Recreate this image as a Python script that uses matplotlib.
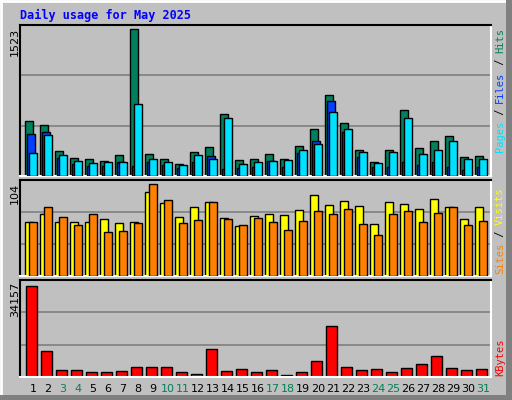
import matplotlib
matplotlib.use("Agg")
import matplotlib.pyplot as plt
from matplotlib.patches import Rectangle
from matplotlib.lines import Line2D

days = list(range(1, 32))
hits = [567,525,256,186,176,155,218,1523,228,176,124,249,300,642,166,176,228,176,311,487,839,549,269,145,269,684,290,363,414,197,207]
files = [432,453,183,128,107,107,145,107,145,114,83,145,207,73,83,93,155,93,238,363,777,456,197,93,93,145,114,145,93,62,93]
pages = [235,422,214,155,135,145,145,746,176,145,114,218,176,601,124,145,155,166,269,332,663,487,249,135,249,601,228,269,363,176,176]
visits = [61,70,61,61,61,64,60,61,95,83,67,78,84,66,57,68,70,69,75,92,80,85,79,59,84,81,76,87,78,64,78]
sites = [61,78,67,58,70,50,51,60,104,86,60,63,84,64,58,66,61,52,62,73,70,76,59,46,70,73,61,71,78,58,62]
kbytes = [34157,9760,2627,2627,1877,1877,2252,3753,3753,3753,1877,1126,10508,2252,3002,1877,2627,750,1877,6005,19140,3753,2627,3002,1877,3378,4879,7881,3378,2627,3002]
weekend = {3,4,10,11,17,18,24,25,31}
max_hits, max_visits, max_kb = 1523, 104, 34157

W, H = 512, 400
fig = plt.figure(figsize=(W/100, H/100), dpi=100)
fig.patch.set_facecolor("#C0C0C0")
def fx(px): return px / W
def fy(py): return 1 - py / H
fig.add_artist(Line2D([fx(1), fx(1)], [fy(1), fy(397)], color="white", lw=2, transform=fig.transFigure, zorder=-1))
fig.add_artist(Line2D([fx(1), fx(507)], [fy(1), fy(1)], color="white", lw=2, transform=fig.transFigure, zorder=-1))
fig.add_artist(Rectangle((fx(506), 0), fx(6), 1, transform=fig.transFigure, color="#808080", lw=0, zorder=-1))
fig.add_artist(Rectangle((0, 0), 1, 5/H, transform=fig.transFigure, color="#808080", lw=0, zorder=-1))

x0, x1 = 20, 491
def mkax(top, bot):
    ax = fig.add_axes([fx(x0), fy(bot), fx(x1) - fx(x0), fy(top) - fy(bot)])
    ax.set_facecolor("#C0C0C0")
    ax.set_xlim(1 - 5/15, 1 + (x1 - 25)/15)
    ax.set_xticks([]); ax.set_yticks([])
    for s in ["top", "left"]:
        ax.spines[s].set_color("black"); ax.spines[s].set_linewidth(1.5)
    for s in ["bottom", "right"]:
        ax.spines[s].set_color("white"); ax.spines[s].set_linewidth(1.5)
    return ax

bw = 8/15
ax1 = mkax(25, 176)
top1 = max_hits * 151 / 147
ax1.set_ylim(0, top1)
for g in (top1/3, 2*top1/3):
    ax1.axhline(g, color="#808080", lw=1.2, zorder=0)
ax1.bar(days, hits, width=bw, align="edge", color="#00805C", edgecolor="black", lw=1, zorder=2)
ax1.bar([d + 2/15 for d in days], files, width=bw, align="edge", color="#0040FF", edgecolor="black", lw=1, zorder=3)
ax1.bar([d + 4/15 for d in days], pages, width=bw, align="edge", color="#00E0FF", edgecolor="black", lw=1, zorder=4)

ax2 = mkax(180, 276)
top2 = max_visits * 96 / 92
ax2.set_ylim(0, top2)
for g in (top2/3, 2*top2/3):
    ax2.axhline(g, color="#808080", lw=1.2, zorder=0)
ax2.bar(days, visits, width=bw, align="edge", color="#FFFF00", edgecolor="black", lw=1, zorder=2)
ax2.bar([d + 4/15 for d in days], sites, width=bw, align="edge", color="#FF8000", edgecolor="black", lw=1, zorder=3)

ax3 = mkax(280, 377)
top3 = max_kb * 97 / 91
ax3.set_ylim(0, top3)
for g in (top3/3, 2*top3/3):
    ax3.axhline(g, color="#808080", lw=1.2, zorder=0)
ax3.bar([d + 1/15 for d in days], kbytes, width=11/15, align="edge", color="#FF0000", edgecolor="black", lw=1, zorder=2)

mono = "DejaVu Sans Mono"
fig.text(fx(20), fy(19), "Daily usage for May 2025", color="#0000FF", fontsize=8.5,
         fontweight="bold", family=mono, va="baseline", ha="left")

for py, lab in [(28, str(max_hits)), (183, str(max_visits)), (282, str(max_kb))]:
    fig.text(fx(15), fy(py), lab, rotation=90, ha="center", va="top", fontsize=8, family="DejaVu Sans")

for d in days:
    xp = 25 + 15*(d - 1) + 8
    fig.text(fx(xp), fy(389), str(d), ha="center", va="center", fontsize=8,
             color="#00805C" if d in weekend else "black")

def vlabel(parts, bottom_py, cw=6.2):
    y = bottom_py
    for txt, col in parts:
        n = len(txt)
        fig.text(fx(500), fy(y - n*cw/2), txt, rotation=90, ha="center", va="center",
                 fontsize=7.5, family=mono, color=col)
        y -= n*cw

vlabel([("Pages", "#00E0FF"), (" / ", "black"), ("Files", "#0040FF"), (" / ", "black"), ("Hits", "#00805C")], 152)
vlabel([("Sites", "#FF8000"), (" / ", "black"), ("Visits", "#FFFF00")], 274)
vlabel([("KBytes", "#FF0000")], 376)

fig.savefig("out.png", dpi=100, facecolor=fig.get_facecolor())
